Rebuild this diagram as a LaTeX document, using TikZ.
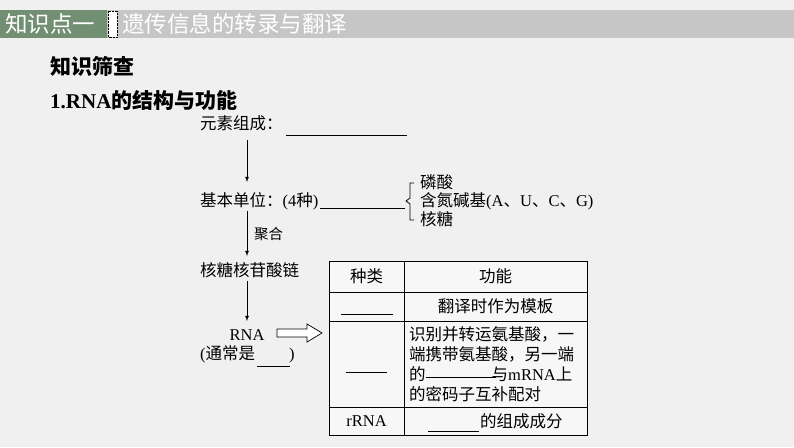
\documentclass[tikz,border=0pt]{standalone}
\usepackage{fontspec}
\setmainfont{Liberation Serif}
\newfontfamily\cjk{Noto Sans CJK SC}
\begin{document}
\begin{tikzpicture}[x=1pt,y=-1pt,
  txt/.style={inner sep=0pt,anchor=west,font=\fontsize{16.5}{18}\selectfont\cjk},
  ln/.style={line width=0.8pt},
  ar/.style={line width=0.8pt,-latex}]
\useasboundingbox (0,0) rectangle (794,447);
\fill[gray!12] (0,0) rectangle (794,447);
\fill[gray!45] (0,10) rectangle (794,38);
\fill[green!20!black!55] (0,10) rectangle (107,38);
\node[anchor=west,inner sep=0pt,text=white,font=\fontsize{22.5}{24}\selectfont\cjk] (k1) at (5,24) {知识点一};
\draw[densely dotted,fill=white] (108,11) rectangle (117,37);
\node[anchor=west,inner sep=0pt,text=white,font=\fontsize{22.5}{24}\selectfont\cjk] (tt) at (122,24) {遗传信息的转录与翻译};
\node[anchor=west,inner sep=0pt,font=\fontsize{21}{23}\selectfont\cjk\bfseries] (zs) at (50,66) {知识筛查};
\node[anchor=west,inner sep=0pt,font=\fontsize{21}{23}\selectfont\bfseries] (h1) at (50,100) {1.RNA{\cjk 的结构与功能}};
\node[txt] (ys) at (200,123) {元素组成：};
\draw[ln] (286,135) -- (407,135);
\node[txt] (jb) at (200,201) {基本单位：{\rmfamily(4}种{\rmfamily)}};
\draw[ln] (320,208) -- (405,208);
\draw[ln] (414,183) -- (410,183) -- (410,198) -- (406,201) -- (410,204) -- (410,220) -- (414,220);
\node[txt] (b1) at (420,182) {磷酸};
\node[txt] (b2) at (420,201) {含氮碱基{\rmfamily(A}、{\rmfamily U}、{\rmfamily C}、{\rmfamily G)}};
\node[txt] (b3) at (420,219) {核糖};
\node[txt] (hl) at (200,270) {核糖核苷酸链};
\node[inner sep=0pt,font=\fontsize{16.5}{18}\selectfont] (rna) at (247,335) {RNA};
\node[txt] (tc) at (200,354) {{\rmfamily(}通常是\hspace{34pt}{\rmfamily)}};
\draw[ln] (257,366) -- (290,366);
\coordinate (a1) at (247,140); \coordinate (a2) at (247,182);
\draw[ar] (a1) -- (a2);
\coordinate (c1) at (247,211); \coordinate (c2) at (247,256);
\draw[ar] (c1) -- (c2);
\node[txt,font=\fontsize{14.5}{16}\selectfont\cjk] (jh) at (254,234) {聚合};
\coordinate (d1) at (247,281); \coordinate (d2) at (247,321);
\draw[ar] (d1) -- (d2);
\draw[line width=0.7pt,fill=white] (277,329) -- (307,329) -- (307,324) -- (322,333) -- (307,342) -- (307,337) -- (277,337) -- cycle;
% table
\draw[line width=0.8pt,fill=gray!6] (329,261) rectangle (587,435);
\draw[line width=0.8pt] (404,261) -- (404,435);
\foreach \y in {292,321,407} \draw[line width=0.8pt] (329,\y) -- (587,\y);
\node[font=\fontsize{16.5}{18}\selectfont\cjk] (t1) at (366.5,276) {种类};
\node[font=\fontsize{16.5}{18}\selectfont\cjk] (t2) at (495.5,276) {功能};
\draw[ln] (341,314) -- (393,314);
\node[font=\fontsize{16.5}{18}\selectfont\cjk] (t3) at (495.5,306) {翻译时作为模板};
\draw[ln] (346,372) -- (387,372);
\node[txt,align=left,font=\fontsize{16.5}{20}\selectfont\cjk] (t4) at (409,364) {识别并转运氨基酸，一\\端携带氨基酸，另一端\\的\hspace{66pt}与{\rmfamily mRNA}上\\的密码子互补配对};
\draw[ln] (426,377) -- (496,377);
\node[font=\fontsize{16.5}{18}\selectfont] (t5) at (366.5,421) {rRNA};
\draw[ln] (428,431) -- (479,431);
\node[txt] (t6) at (480,421) {的组成成分};
\end{tikzpicture}
\end{document}
